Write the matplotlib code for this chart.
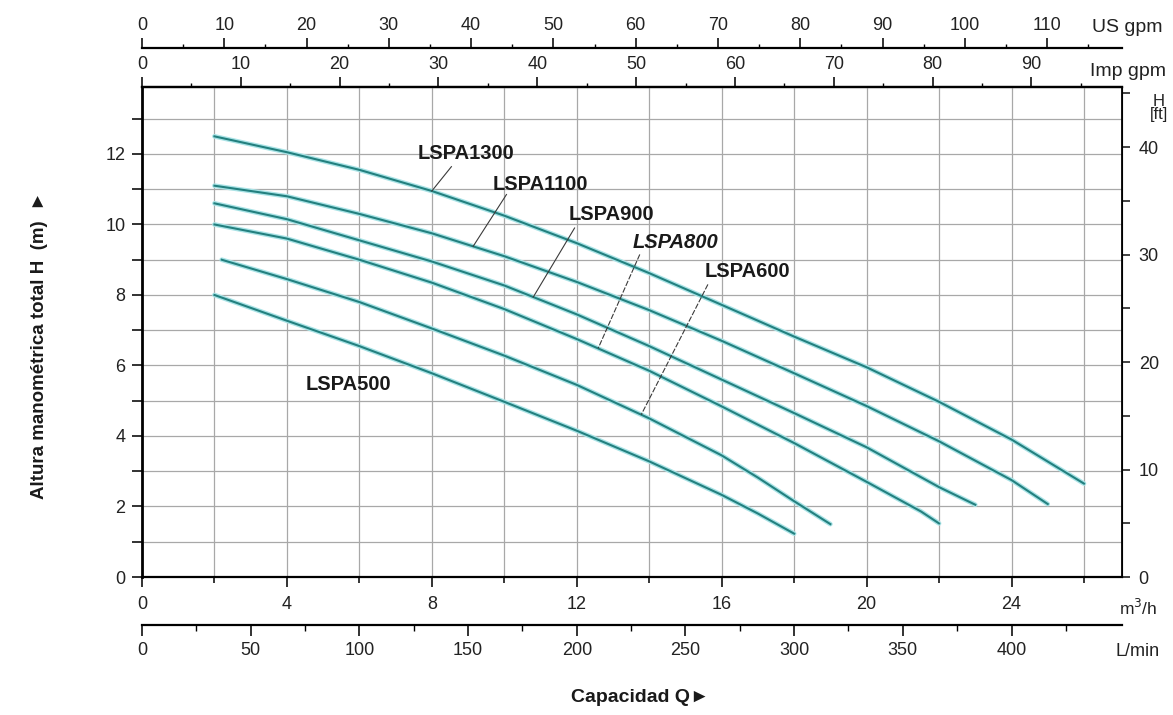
import numpy as np
import matplotlib.pyplot as plt
from matplotlib.ticker import FixedLocator

plt.rcParams['font.family'] = ['Liberation Sans', 'DejaVu Sans']

# pump curves: capacity Q (m3/h) vs total head H (m)
q_1300 = [2, 4, 6, 8, 10, 12, 14, 16, 18, 20, 22, 24, 26]
h_1300 = [12.5, 12.05, 11.55, 10.95, 10.25, 9.47, 8.62, 7.72, 6.82, 5.95, 4.97, 3.9, 2.65]

q_1100 = [2, 4, 6, 8, 10, 12, 14, 16, 18, 20, 22, 24, 25]
h_1100 = [11.1, 10.8, 10.3, 9.75, 9.1, 8.37, 7.57, 6.7, 5.78, 4.85, 3.85, 2.75, 2.07]

q_900 = [2, 4, 6, 8, 10, 12, 14, 16, 18, 20, 22, 23]
h_900 = [10.6, 10.15, 9.55, 8.95, 8.27, 7.45, 6.55, 5.6, 4.65, 3.68, 2.55, 2.05]

q_800 = [2, 4, 6, 8, 10, 12, 14, 16, 18, 20, 21.5, 22]
h_800 = [10.0, 9.6, 9.0, 8.35, 7.6, 6.75, 5.85, 4.84, 3.8, 2.7, 1.86, 1.52]

q_600 = [2.2, 4, 6, 8, 10, 12, 14, 16, 17, 18, 19]
h_600 = [9.0, 8.45, 7.8, 7.05, 6.28, 5.45, 4.5, 3.45, 2.82, 2.15, 1.5]

q_500 = [2, 4, 6, 8, 10, 12, 14, 16, 17, 18]
h_500 = [8.0, 7.27, 6.55, 5.78, 4.97, 4.15, 3.28, 2.33, 1.8, 1.23]

models = ['LSPA1300', 'LSPA1100', 'LSPA900', 'LSPA800', 'LSPA600', 'LSPA500']
curves = [(q_1300, h_1300), (q_1100, h_1100), (q_900, h_900),
          (q_800, h_800), (q_600, h_600), (q_500, h_500)]

# label placement: text position, leader start, q where the leader meets the curve
label_pos = [(7.6, 12.0), (9.68, 11.14), (11.78, 10.28), (13.54, 9.49), (15.53, 8.66), (4.52, 5.45)]
leader_start = [(8.54, 11.64), (10.06, 10.85), (11.94, 9.9), (13.74, 9.15), (15.62, 8.3), None]
leader_q = [8.0, 9.14, 10.8, 12.59, 13.78, None]

# tick values of the extra scales
us_ticks = list(range(0, 111, 10))
imp_ticks = list(range(0, 91, 10))
lmin_ticks = list(range(0, 401, 50))
ft_ticks = [0, 10, 20, 30, 40]

W, H = 1173, 715
fig = plt.figure(figsize=(W / 100, H / 100), dpi=100)
ax = fig.add_axes([142 / W, (H - 577) / H, 980 / W, 490 / H])

for q, h in curves:
    ax.plot(q, h, color='#a9e3e6', lw=3.4, solid_capstyle='round', zorder=3)
    ax.plot(q, h, color='#23807f', lw=1.5, zorder=4)

for i, name in enumerate(models):
    style = 'italic' if name == 'LSPA800' else 'normal'
    ax.text(label_pos[i][0], label_pos[i][1], name, fontsize=14.5, fontweight='bold',
            fontstyle=style, ha='left', va='center', color='#1a1a1a', zorder=5)
    if leader_start[i] is not None:
        q, h = curves[i]
        hq = np.interp(leader_q[i], q, h)
        ls = (0, (5, 1.5)) if name in ('LSPA800', 'LSPA600') else '-'
        ax.plot([leader_start[i][0], leader_q[i]], [leader_start[i][1], hq],
                color='#3a3a3a', lw=0.8, ls=ls, zorder=5)

ax.set_xlim(0, 27.05)
ax.set_ylim(0, 13.9)
ax.xaxis.set_major_locator(FixedLocator([0, 4, 8, 12, 16, 20, 24]))
ax.xaxis.set_minor_locator(FixedLocator([2, 6, 10, 14, 18, 22, 26]))
ax.yaxis.set_major_locator(FixedLocator([0, 2, 4, 6, 8, 10, 12]))
ax.yaxis.set_minor_locator(FixedLocator([1, 3, 5, 7, 9, 11, 13]))
ax.grid(which='both', color='#a8a8a8', lw=0.9)
ax.set_axisbelow(True)

for s, w in [('left', 2.0), ('bottom', 1.6), ('top', 1.6), ('right', 1.3)]:
    ax.spines[s].set_linewidth(w)
ax.tick_params(axis='y', which='both', direction='out', length=7, width=1.3,
               labelsize=13, pad=5, colors='#222222')
ax.tick_params(axis='x', which='major', direction='out', length=7, width=1.3,
               labelsize=13, pad=7, colors='#222222')
ax.tick_params(axis='x', which='minor', direction='out', length=4, width=1.1)

# extra flow scales
us = ax.secondary_xaxis(1.08, functions=(lambda x: x * 4.40287, lambda x: x / 4.40287))
us.xaxis.set_major_locator(FixedLocator(us_ticks))
us.xaxis.set_minor_locator(FixedLocator([t + 5 for t in us_ticks]))
us.tick_params(which='major', length=7, width=1.3, labelsize=13, pad=3, colors='#222222')
us.tick_params(which='minor', length=3, width=1.0)
us.spines['top'].set_linewidth(1.6)

imp = ax.secondary_xaxis('top', functions=(lambda x: x * 3.66615, lambda x: x / 3.66615))
imp.xaxis.set_major_locator(FixedLocator(imp_ticks))
imp.xaxis.set_minor_locator(FixedLocator([t + 5 for t in imp_ticks]))
imp.tick_params(which='major', length=7, width=1.3, labelsize=13, pad=3, colors='#222222')
imp.tick_params(which='minor', length=3, width=1.0)
imp.spines['top'].set_linewidth(1.6)

lmin = ax.secondary_xaxis(-0.098, functions=(lambda x: x * 1000 / 60, lambda x: x * 60 / 1000))
lmin.xaxis.set_major_locator(FixedLocator(lmin_ticks))
lmin.xaxis.set_minor_locator(FixedLocator([t + 25 for t in lmin_ticks]))
lmin.tick_params(which='major', length=8, width=1.3, labelsize=13, pad=4, colors='#222222')
lmin.tick_params(which='minor', length=4, width=1.0)
lmin.spines['bottom'].set_linewidth(1.6)

ft = ax.secondary_yaxis('right', functions=(lambda m: m / 0.3048, lambda f: f * 0.3048))
ft.yaxis.set_major_locator(FixedLocator(ft_ticks))
ft.yaxis.set_minor_locator(FixedLocator([t + 5 for t in ft_ticks]))
ft.tick_params(which='both', length=6, width=1.2, labelsize=13, pad=6, colors='#222222')

# unit labels
fig.text(1092 / W, 1 - 28 / H, 'US gpm', fontsize=14, ha='left', va='center', color='#222222')
fig.text(1090 / W, 1 - 71 / H, 'Imp gpm', fontsize=14, ha='left', va='center', color='#222222')
fig.text(1159 / W, 1 - 108 / H, 'H\n[ft]', fontsize=12, ha='center', va='center',
         linespacing=0.85, color='#222222')
fig.text(1138 / W, 1 - 608 / H, 'm$^3$/h', fontsize=12.5, ha='center', va='center', color='#222222')
fig.text(1138 / W, 1 - 652 / H, 'L/min', fontsize=13, ha='center', va='center', color='#222222')

fig.text(40 / W, 1 - 345 / H, 'Altura manométrica total H  (m)  ►', rotation=90,
         fontsize=13.5, fontweight='bold', ha='center', va='center', color='#1a1a1a')
fig.text(640 / W, 1 - 697 / H, 'Capacidad Q►', fontsize=14, fontweight='bold',
         ha='center', va='center', color='#1a1a1a')

fig.savefig('out.png', dpi=100)
